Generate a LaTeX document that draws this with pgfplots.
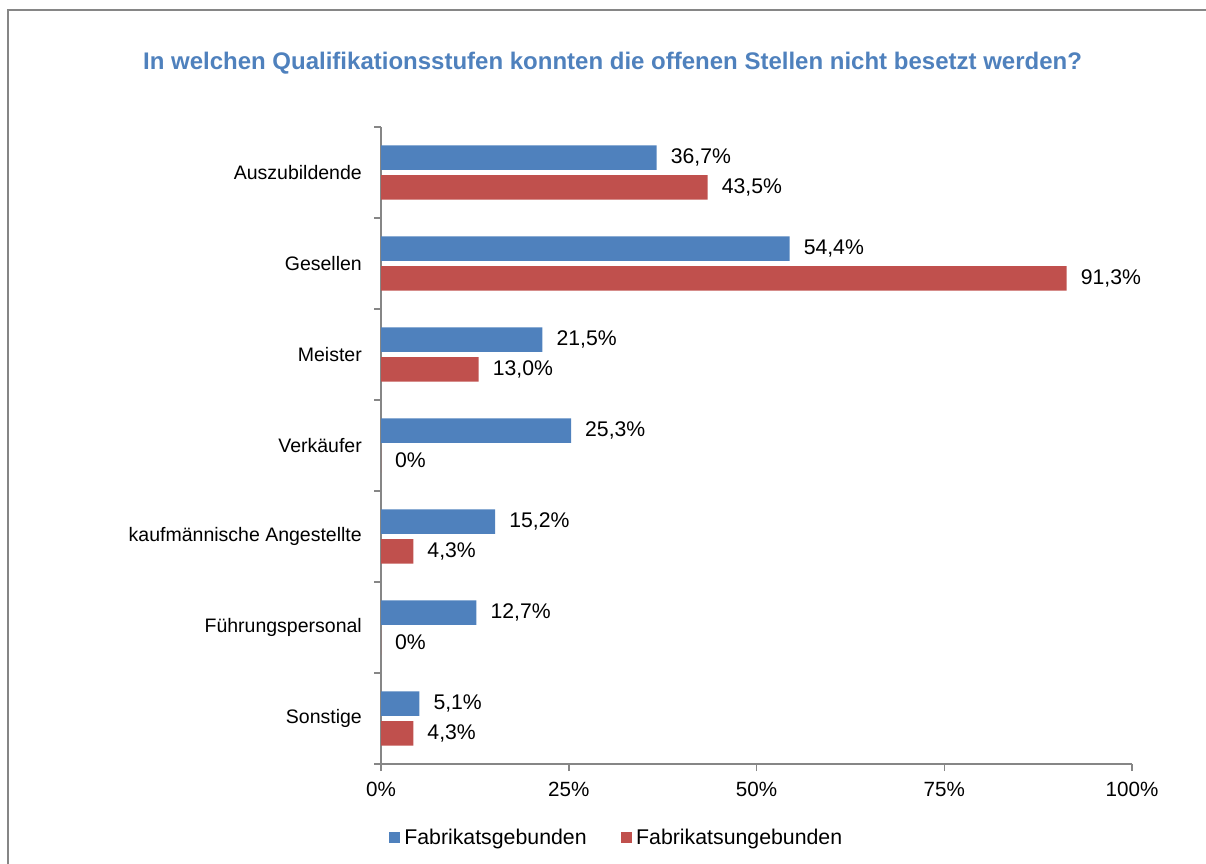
\documentclass[border=0pt]{standalone}
\usepackage{fontspec}
\setmainfont{Liberation Sans}
\usepackage{pgfplots}
\pgfplotsset{compat=1.18}
\definecolor{blueS}{HTML}{4F81BD}
\definecolor{redS}{HTML}{C0504D}
\definecolor{axisG}{HTML}{868686}
\definecolor{titleB}{HTML}{4F81BD}
\begin{document}
\begin{tikzpicture}[x=1pt,y=1pt]
\useasboundingbox (0,0) rectangle (1206,863);
\draw[axisG, line width=1.5pt] (8,-20) -- (8,853) -- (1230,853);
\node[anchor=base, font=\fontsize{24}{28}\selectfont\bfseries, text=titleB] at (612.5,793.7) {In welchen Qualifikationsstufen konnten die offenen Stellen nicht besetzt werden?};
\begin{axis}[
  at={(381pt,99pt)}, anchor=south west, scale only axis,
  width=751pt, height=637pt,
  xmin=0, xmax=100, ymin=-0.5, ymax=6.5,
  axis x line*=bottom, axis y line*=left,
  axis line style={axisG, line width=1.5pt},
  font=\fontsize{19.5}{23}\selectfont,
  xtick={0,25,50,75,100}, xticklabels={0\%,25\%,50\%,75\%,100\%},
  xticklabel style={inner sep=0pt, yshift=-11pt, font=\fontsize{20.6}{24}\selectfont},
  ytick={0,...,6},
  yticklabels={Sonstige,Führungspersonal,kaufmännische Angestellte,Verkäufer,Meister,Gesellen,Auszubildende},
  yticklabel style={inner sep=0pt, xshift=-12pt, font=\fontsize{19.5}{23}\selectfont},
  minor ytick={-0.5,0.5,...,6.5},
  tick align=outside,
  major tick length=7pt, minor tick length=7pt,
  major y tick style={draw=none},
  minor y tick style={draw=axisG, line width=1.5pt},
  x tick style={draw=axisG, line width=1.5pt},
  legend style={at={(0.3136,-0.1154)}, anchor=center, draw=none, fill=none, legend columns=2,
    font=\fontsize{21.3}{25}\selectfont,
    /tikz/every odd column/.append style={column sep=2.5pt},
    /tikz/every even column/.append style={column sep=32pt}},
  legend image code/.code={\fill[#1] (0pt,-5.5pt) rectangle (11pt,5.5pt);},
  nodes near coords style={anchor=west, inner sep=0pt, xshift=14pt, text=black, font=\fontsize{21.2}{25}\selectfont},
]
\addplot[xbar, bar width=24.5pt, bar shift=14.8pt, fill=blueS, draw=none,
  nodes near coords, point meta=explicit symbolic,
  every node near coord/.append style={yshift=14.8pt}] coordinates {
  (5.1,0) [5,1\%]
  (12.7,1) [12,7\%]
  (15.2,2) [15,2\%]
  (25.3,3) [25,3\%]
  (21.5,4) [21,5\%]
  (54.4,5) [54,4\%]
  (36.7,6) [36,7\%]
};
\addlegendentry{Fabrikatsgebunden}
\addplot[xbar, bar width=24.5pt, bar shift=-14.8pt, fill=redS, draw=none,
  nodes near coords, point meta=explicit symbolic,
  every node near coord/.append style={yshift=-14.8pt}] coordinates {
  (4.3,0) [4,3\%]
  (0,1) [0\%]
  (4.3,2) [4,3\%]
  (0,3) [0\%]
  (13.0,4) [13,0\%]
  (91.3,5) [91,3\%]
  (43.5,6) [43,5\%]
};
\addlegendentry{Fabrikatsungebunden}
\end{axis}
\end{tikzpicture}
\end{document}
